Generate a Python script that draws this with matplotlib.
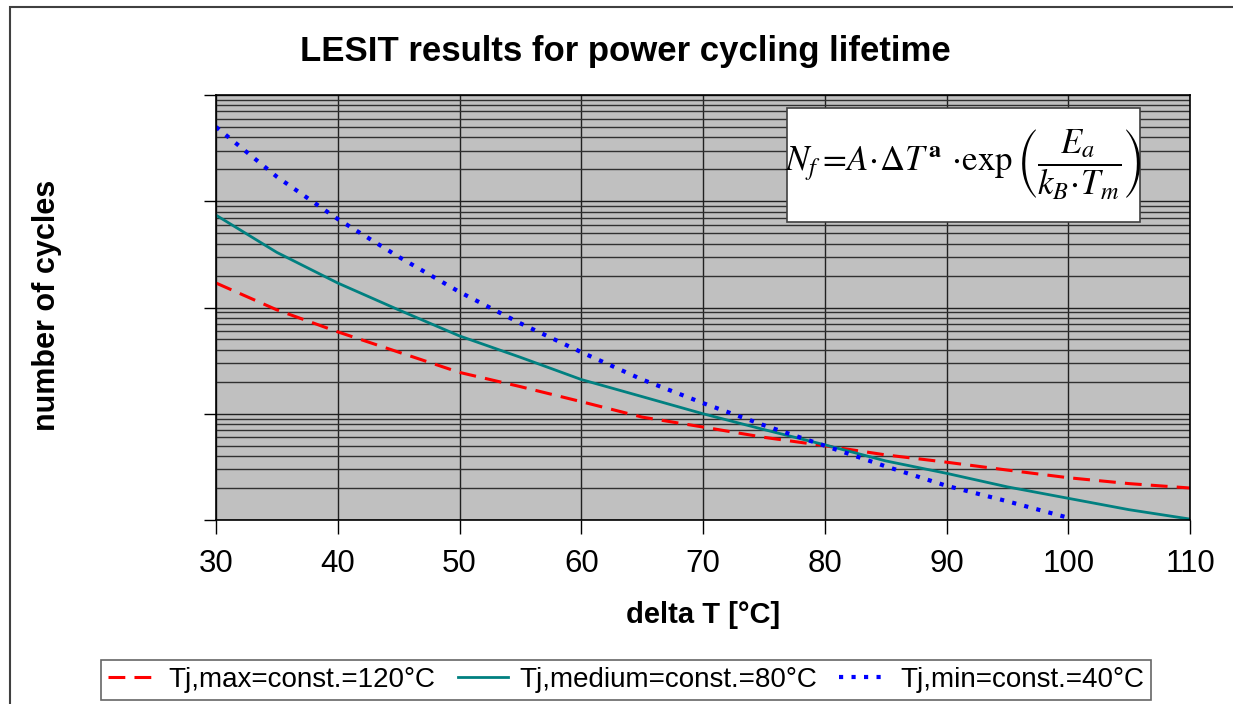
import matplotlib
matplotlib.use("Agg")
import matplotlib.pyplot as plt
import matplotlib.patches as patches
from matplotlib.ticker import LogLocator, NullFormatter, MultipleLocator

plt.rcParams['font.family'] = ['Liberation Sans', 'DejaVu Sans']
plt.rcParams['mathtext.fontset'] = 'stix'

# data (number of cycles vs delta T)
dT_max = [30, 35, 40, 45, 50, 55, 60, 65, 70, 75, 80, 85, 90, 95, 100, 105, 110]
n_max = [1.7e5, 9.5e4, 5.9e4, 3.8e4, 2.45e4, 1.8e4, 1.3e4, 9.3e3, 7.5e3,
         6.0e3, 5.0e3, 4.1e3, 3.5e3, 2.95e3, 2.5e3, 2.2e3, 2.0e3]

dT_med = [30, 35, 40, 45, 50, 55, 60, 65, 70, 75, 80, 85, 90, 95, 100, 105, 110]
n_med = [7.4e5, 3.3e5, 1.7e5, 9.5e4, 5.4e4, 3.4e4, 2.1e4, 1.45e4, 1.0e4,
         7.1e3, 5.1e3, 3.6e3, 2.75e3, 2.05e3, 1.6e3, 1.25e3, 1.02e3]

dT_min = [30, 35, 40, 45, 50, 55, 60, 65, 70, 75, 80, 85, 90, 95, 100]
n_min = [5.0e6, 1.7e6, 6.8e5, 3.0e5, 1.4e5, 7.1e4, 3.8e4, 2.1e4, 1.26e4,
         7.8e3, 5.0e3, 3.2e3, 2.1e3, 1.5e3, 1.05e3]

labels = ['Tj,max=const.=120°C', 'Tj,medium=const.=80°C', 'Tj,min=const.=40°C']

W, H = 1233, 704
fig = plt.figure(figsize=(W / 100, H / 100), dpi=100)
ax = fig.add_axes([216 / W, 1 - 520 / H, (1190 - 216) / W, (520 - 95) / H])
ax.set_facecolor('#c0c0c0')

# outer chart border (runs off right/bottom edge)
fig.patches.append(patches.Rectangle((10 / W, -0.1), 1.2, 0.1 + 1 - 7 / H,
                                     transform=fig.transFigure, fill=False,
                                     edgecolor='#404040', linewidth=1.5))

l1, = ax.plot(dT_max, n_max, color='#ff0000', linewidth=2.2, dashes=(5.5, 3))
l2, = ax.plot(dT_med, n_med, color='#008080', linewidth=2.0)
l3, = ax.plot(dT_min, n_min, color='#0000ff', linewidth=3.0, dashes=(1, 2))

ax.set_yscale('log')
ax.set_ylim(1e3, 1e7)
ax.set_xlim(30, 110)
ax.xaxis.set_major_locator(MultipleLocator(10))
ax.yaxis.set_major_locator(LogLocator(base=10, numticks=10))
ax.yaxis.set_minor_locator(LogLocator(base=10, subs=range(2, 10), numticks=50))
ax.yaxis.set_major_formatter(NullFormatter())
ax.yaxis.set_minor_formatter(NullFormatter())
ax.tick_params(axis='y', which='major', length=9, width=1, direction='out')
ax.tick_params(axis='y', which='minor', length=0)
ax.tick_params(axis='x', length=10, width=1, direction='out', labelsize=22.5, pad=11)

ax.grid(True, which='major', color='#202020', linewidth=1.0)
ax.grid(True, which='minor', axis='y', color='#303030', linewidth=1.0)
ax.set_axisbelow(True)
for s in ax.spines.values():
    s.set_color('black')
    s.set_linewidth(1.2)

# equation box
ax.add_patch(patches.Rectangle((0.586, 0.701), 0.363, 0.268, transform=ax.transAxes,
                               facecolor='white', edgecolor='#404040', linewidth=1.2,
                               zorder=5))
ax.text(0.7675, 0.835,
        r'$N_f =\!A\!\cdot\!\Delta T^{\mathbf{a}}\,\cdot\!\exp\left(\dfrac{E_a}{k_B\!\cdot\!T_m}\right)$',
        transform=ax.transAxes, ha='center', va='center', fontsize=25, zorder=6)

fig.text(625 / W, 1 - 52 / H, 'LESIT results for power cycling lifetime',
         ha='center', va='center', fontsize=25, fontweight='bold')
fig.text(47 / W, 1 - 305 / H, 'number of cycles', rotation=90,
         ha='center', va='center', fontsize=22, fontweight='bold')
fig.text(703 / W, 1 - 615 / H, 'delta T [°C]',
         ha='center', va='center', fontsize=21, fontweight='bold')

leg = fig.legend([l1, l2, l3], labels, ncol=3, loc='center',
                 bbox_to_anchor=(626 / W, 1 - 680 / H), fontsize=20,
                 frameon=True, fancybox=False, handlelength=1.8,
                 handletextpad=0.4, columnspacing=0.8, borderpad=0.25)
leg.get_frame().set_edgecolor('#404040')
leg.get_frame().set_linewidth(1.2)

fig.savefig('out.png', dpi=100)
